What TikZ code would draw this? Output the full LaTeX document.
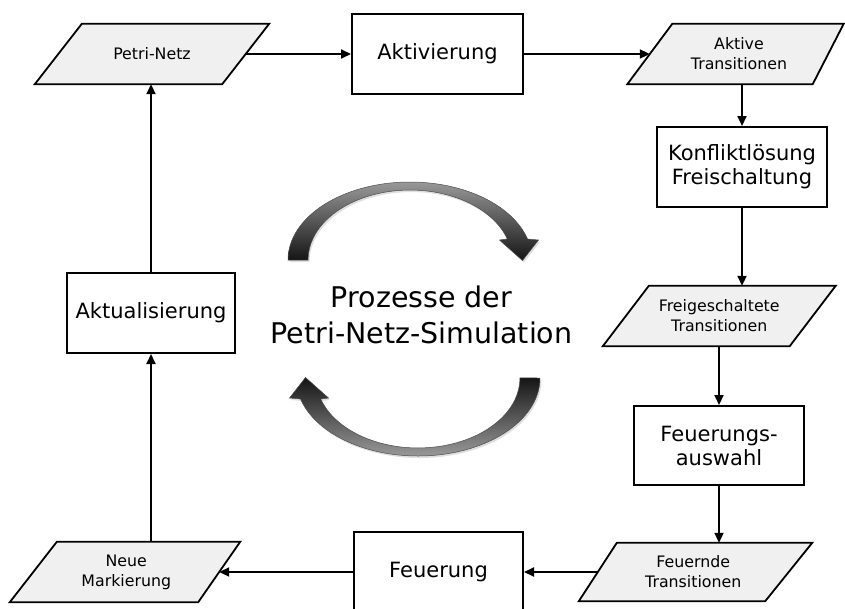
\documentclass[tikz,border=0pt]{standalone}
\usepackage{fontspec}
\setmainfont{DejaVu Sans}
\usetikzlibrary{arrows.meta,backgrounds,shadows}

% parallelogram frame behind a data node: #1 node, #2 left half-slant, #3 right half-slant
\newcommand\drawdataframe[3]{%
  \draw[dataframe] ([xshift=-#2]#1.south west) -- ([xshift=#2]#1.north west)
    -- ([xshift=#3]#1.north east) -- ([xshift=-#3]#1.south east) -- cycle;}

% body of the curved turn arrow (upper one; the lower one is the same turned by 180 degrees)
\newcommand\turnarrowpath{%
  (288,260) arc[start angle=180, end angle=344.4, x radius=122, y radius=78]
  -- (538.5,240) -- (522.5,260.5) -- (499.5,240) -- (507.3,239)
  arc[start angle=342.5, end angle=180, x radius=102, y radius=70] -- cycle}

\tikzset{
  procbox/.style={draw, line width=2pt, inner sep=0pt, align=center,
    font=\fontsize{21}{24}\selectfont},
  databox/.style={inner sep=0pt, align=center,
    font=\fontsize{15.8}{20}\selectfont},
  dataframe/.style={draw, line width=1.8pt, fill=black!6, line join=miter},
  flow/.style={line width=2pt, -{Triangle[length=10pt,width=9pt]}},
  turnarrow/.style={draw=black!70, line width=0.5pt, shading=axis,
    drop shadow={opacity=0.25, shadow xshift=1.5pt, shadow yshift=-2pt}},
}

\begin{document}
\begin{tikzpicture}[x=1pt, y=-1pt]
\path[use as bounding box, clip] (0,0) rectangle (845,608);

% process steps
\node[procbox, minimum width=171pt, minimum height=80pt] (akt) at (437.5,54) {Aktivierung};
\node[procbox, minimum width=170pt, minimum height=80pt] (konf) at (742,167) {Konfliktlösung\\Freischaltung};
\node[procbox, minimum width=170pt, minimum height=79pt] (wahl) at (719,445.5) {Feuerungs-\\auswahl};
\node[procbox, minimum width=169pt, minimum height=80pt] (feu) at (438.5,572) {Feuerung};
\node[procbox, minimum width=168pt, minimum height=80pt] (aktual) at (151,313) {Aktualisierung};

% data between the steps
\node[databox, minimum width=187pt, minimum height=60pt] (pn) at (152,54) {Petri-Netz};
\node[databox, minimum width=178pt, minimum height=60pt] (at) at (739,54) {Aktive\\Transitionen};
\node[databox, minimum width=186.5pt, minimum height=60pt] (fg) at (719.25,316) {Freigeschaltete\\Transitionen};
\node[databox, minimum width=190.5pt, minimum height=58pt] (fd) at (693.25,572) {Feuernde\\Transitionen};
\node[databox, minimum width=185.5pt, minimum height=60pt] (nm) at (126.25,572) {Neue\\Markierung};

\begin{scope}[on background layer]
  \drawdataframe{pn}{23.5pt}{23.5pt}
  \drawdataframe{at}{22.5pt}{15.5pt}
  \drawdataframe{fg}{23pt}{23pt}
  \drawdataframe{fd}{19pt}{23.5pt}
  \drawdataframe{nm}{23.5pt}{21pt}
\end{scope}

% title in the middle
\node[font=\fontsize{28.5}{35.5}\selectfont, align=center, inner sep=0pt] (title) at (421.5,315)
  {Prozesse der\\Petri-Netz-Simulation};

% cycle of the simulation
\draw[flow] (pn.east) -- (akt.west);
\draw[flow] (akt.east) -- (at.west);
\draw[flow] (konf.north |- at.south) -- (konf.north);
\draw[flow] (konf.south) -- (konf.south |- fg.north);
\draw[flow] (wahl.north |- fg.south) -- (wahl.north);
\draw[flow] (wahl.south) -- (wahl.south |- fd.north);
\draw[flow] (fd.west) -- (fd.west -| feu.east);
\draw[flow] (feu.west) -- (feu.west -| nm.east);
\draw[flow] (aktual.south |- nm.north) -- (aktual.south);
\draw[flow] (aktual.north) -- (aktual.north |- pn.south);

% curved turn arrows around the title
\path[turnarrow, top color=black!40, bottom color=black!92] \turnarrowpath;
\begin{scope}[rotate around={180:(414,319)}]
  \path[turnarrow, top color=black!92, bottom color=black!40] \turnarrowpath;
\end{scope}
\end{tikzpicture}
\end{document}
